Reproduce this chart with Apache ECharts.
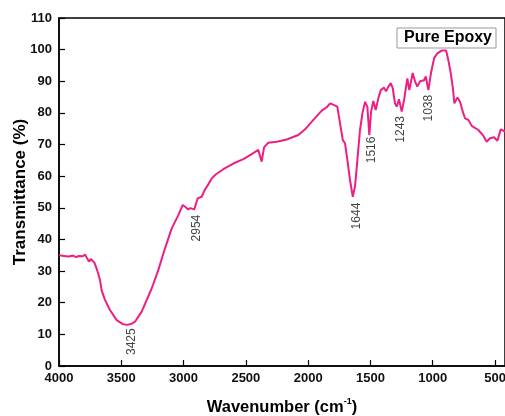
<!DOCTYPE html>
<html>
  <head>
    <meta charset="utf-8">
    <title>FTIR Pure Epoxy</title>
    <style type="text/css">
    html,body{margin:0;padding:0;background:#fff;}
    #chart{width:505px;height:416px;}
    </style>
    <script src="https://cdn.jsdelivr.net/npm/echarts@6.0.0/dist/echarts.min.js"></script>
  </head>
  <body>
    <div id="chart"></div>
    <script type="text/javascript">
      // spectrum (wavenumber, transmittance)
      var waveNumbers = [4000,3960,3920,3890,3860,3840,3810,3790,3775,3760,3745,3733,3715,3700,3690,3671,3657,3631,3591,3537,
        3490,3457,3420,3390,3336,3300,3256,3203,3149,3095,3042,3007,2983,2962,2945,2930,2914,2895,2887,2855,
        2828,2800,2774,2740,2681,2601,2520,2460,2400,2386,2373,2354,2338,2320,2252,2172,2079,2025,1958,1891,
        1851,1824,1800,1784,1766,1744,1722,1704,1685,1664,1642,1624,1605,1584,1562,1543,1525,1509,1495,1477,
        1458,1437,1417,1391,1375,1356,1337,1321,1303,1289,1271,1249,1230,1204,1188,1161,1142,1124,1102,1070,
        1056,1035,1014,989,963,928,893,875,855,839,826,802,781,759,741,714,687,634,598,567,
        540,508,481,454,433,420];
      var transmittance = [35.0,34.8,34.6,34.9,34.4,34.8,34.7,35.2,35.0,33.0,33.8,33.2,32.6,31.0,29.8,27.2,23.8,20.9,17.7,14.5,
        13.3,13.0,13.3,14.0,17.2,20.5,24.5,30.3,37.2,43.5,47.7,50.9,50.2,49.5,49.9,50.0,49.5,52.0,53.0,53.5,
        55.8,57.5,59.3,60.6,62.2,64.0,65.4,66.8,68.3,68.6,64.6,69.1,68.8,70.6,70.9,71.6,73.0,74.8,77.8,80.7,
        81.8,83.0,82.6,82.8,82.0,76.7,71.4,70.4,65.1,58.8,53.5,56.7,65.1,74.6,80.4,83.5,82.0,73.0,80.4,83.8,
        80.9,84.6,87.2,88.0,86.8,88.3,89.4,87.8,83.0,82.0,84.3,80.4,84.1,90.9,87.2,92.6,90.0,88.3,90.0,90.3,
        91.5,87.2,92.6,97.3,98.8,99.7,99.7,96.7,92.5,88.0,83.0,84.9,83.5,80.4,78.3,77.8,75.9,74.6,73.0,70.9,
        72.0,72.3,71.2,74.8,74.4,74.0];

      // peak annotations: label text and where the label sits (data units)
      var peakNames = ['3425','2954','1644','1516','1243','1038'];
      var peakAnchorX = [3416,2895,1610,1490,1257,1030];
      var peakAnchorY = [7.7,43.6,47.4,68.3,74.8,81.5];

      var xTicks = [500,1000,1500,2000,2500,3000,3500,4000];

      var spectrum = waveNumbers.map(function(w,i){ return [w, transmittance[i]]; });
      var peaks = peakNames.map(function(n,i){ return [peakAnchorX[i], peakAnchorY[i], n]; });

      var font = 'Liberation Sans, Arial, sans-serif';
      var myChart = echarts.init(document.getElementById('chart'));
      var option = {
        animation: false,
        textStyle: { fontFamily: font },
        grid: {
          left: 59, top: 18, right: 0, bottom: 50,
          containLabel: false,
          outerBoundsMode: 'none',
          show: true, borderColor: '#000', borderWidth: 1.5
        },
        legend: {
          data: ['Pure Epoxy'],
          right: 9, top: 28,
          icon: 'none', itemWidth: 0, itemHeight: 16,
          padding: [1, 4, 1, 2],
          borderColor: '#999', borderWidth: 1,
          selectedMode: false,
          textStyle: { fontFamily: font, fontSize: 16, fontWeight: 'bold', color: '#000', lineHeight: 18 }
        },
        xAxis: {
          type: 'value',
          inverse: true,
          min: 420, max: 4000,
          name: '{t|Wavenumber (cm}{s|-1}{t|)}',
          nameLocation: 'middle',
          nameGap: 31,
          nameTextStyle: {
            rich: {
              t: { fontFamily: font, fontSize: 16.5, fontWeight: 'bold', color: '#000' },
              s: { fontFamily: font, fontSize: 9, fontWeight: 'bold', color: '#000', padding: [0, 0, 12, 0] }
            }
          },
          splitLine: { show: false },
          axisLine: { lineStyle: { color: '#000', width: 1.5 } },
          axisTick: { inside: true, length: 6, customValues: xTicks, lineStyle: { color: '#000', width: 1.2 } },
          axisLabel: {
            customValues: xTicks, margin: 6, fontSize: 13, fontWeight: 'bold', color: '#111', fontFamily: font,
            formatter: function(v){ return String(v); }
          }
        },
        yAxis: {
          type: 'value',
          min: 0, max: 110, interval: 10,
          name: 'Transmittance (%)',
          nameLocation: 'middle',
          nameGap: 30,
          nameMoveOverlap: false,
          nameTextStyle: { fontFamily: font, fontSize: 17, fontWeight: 'bold', color: '#000' },
          splitLine: { show: false },
          axisLine: { show: true, lineStyle: { color: '#000', width: 1.5 } },
          axisTick: { show: true, inside: true, length: 6, lineStyle: { color: '#000', width: 1.2 } },
          axisLabel: {
            margin: 7, fontSize: 13, fontWeight: 'bold', color: '#111', fontFamily: font,
            formatter: function(v){ return String(v); }
          }
        },
        series: [
          {
            name: 'Pure Epoxy',
            type: 'line',
            data: spectrum,
            showSymbol: false,
            symbol: 'none',
            color: '#ee1f80',
            lineStyle: { color: '#ee1f80', width: 2 }
          },
          {
            name: 'peaks',
            type: 'scatter',
            data: peaks,
            symbolSize: 0,
            silent: true,
            label: {
              show: true,
              position: 'inside',
              rotate: 90,
              align: 'center',
              verticalAlign: 'middle',
              fontFamily: font,
              fontSize: 12,
              color: '#111',
              formatter: function(p){ return p.value[2]; }
            }
          }
        ]
      };
      myChart.setOption(option);
    </script>
  </body>
</html>
